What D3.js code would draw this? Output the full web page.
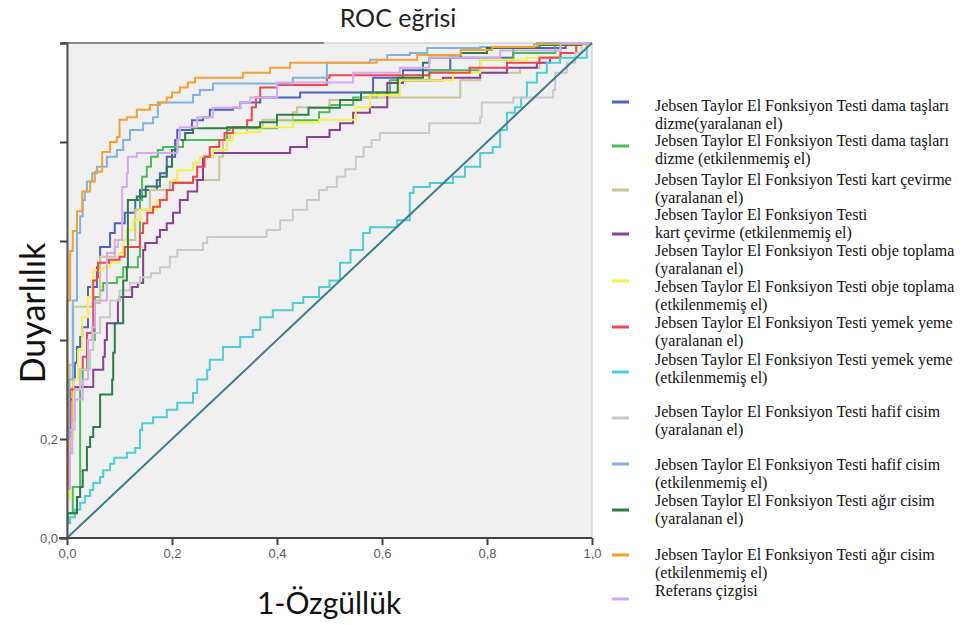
<!DOCTYPE html>
<html lang="tr">
<head>
<meta charset="UTF-8">
<title>ROC eğrisi</title>
<script src="https://d3js.org/d3.v7.min.js"></script>
<style>
    body { margin: 0; background: #fff; }
    svg { display: block; }
    .tick text { font-family: "Liberation Sans", Arial, sans-serif; font-size: 13px; fill: #5a5a5a; }
    .legend text { font-family: "Liberation Serif", "Times New Roman", serif; font-size: 16px; fill: #111; }
</style>
</head>
<body>
<svg width="970" height="625"></svg>
<script>
// ---- data: ROC step points [1-specificity, sensitivity] ----
const damaYaralanan = [[0,0],[0.003,0.1],[0.006,0.2],[0.012,0.28],[0.015,0.32],[0.019,0.354],[0.025,0.386],[0.029,0.406],[0.04,0.426],[0.057,0.507],[0.063,0.547],[0.082,0.588],[0.091,0.616],[0.11,0.636],[0.13,0.657],[0.139,0.683],[0.171,0.703],[0.177,0.723],[0.19,0.737],[0.206,0.77],[0.21,0.804],[0.238,0.824],[0.259,0.844],[0.272,0.85],[0.316,0.865],[0.33,0.869],[0.368,0.88],[0.444,0.89],[0.583,0.9],[0.64,0.93],[0.73,0.945],[0.85,0.97],[0.95,0.99],[1,1]];
const damaEtkilenmemis = [[0,0],[0.002,0.03],[0.011,0.05],[0.011,0.077],[0.025,0.103],[0.025,0.17],[0.03,0.305],[0.038,0.34],[0.053,0.4],[0.063,0.487],[0.069,0.5],[0.095,0.515],[0.107,0.527],[0.135,0.547],[0.139,0.568],[0.143,0.683],[0.152,0.73],[0.16,0.75],[0.173,0.77],[0.183,0.784],[0.221,0.79],[0.305,0.804],[0.31,0.824],[0.4,0.828],[0.48,0.844],[0.5,0.86],[0.545,0.875],[0.59,0.89],[0.615,0.9],[0.69,0.925],[0.787,0.945],[0.85,0.966],[0.93,0.98],[1,1]];
const kartYaralanan = [[0,0],[0.005,0.15],[0.012,0.35],[0.048,0.467],[0.063,0.475],[0.091,0.568],[0.13,0.602],[0.158,0.663],[0.196,0.703],[0.24,0.719],[0.29,0.723],[0.297,0.77],[0.31,0.804],[0.343,0.818],[0.373,0.83],[0.43,0.845],[0.438,0.86],[0.5,0.87],[0.558,0.885],[0.749,0.89],[0.787,0.925],[0.863,0.94],[0.9,0.95],[0.94,0.97],[1,1]];
const kartEtkilenmemis = [[0,0],[0.003,0.1],[0.006,0.17],[0.011,0.218],[0.05,0.305],[0.069,0.34],[0.072,0.366],[0.076,0.4],[0.097,0.434],[0.1,0.48],[0.124,0.487],[0.135,0.507],[0.145,0.515],[0.149,0.582],[0.171,0.596],[0.177,0.608],[0.19,0.622],[0.202,0.636],[0.215,0.657],[0.23,0.683],[0.248,0.7],[0.259,0.723],[0.278,0.77],[0.425,0.778],[0.457,0.79],[0.5,0.81],[0.52,0.824],[0.545,0.838],[0.577,0.859],[0.61,0.87],[0.64,0.919],[0.716,0.925],[0.787,0.93],[0.838,0.94],[0.895,0.95],[0.92,0.96],[0.94,0.97],[1,1]];
const objeEtkilenmemis = [[0,0],[0.005,0.08],[0.012,0.2],[0.021,0.32],[0.029,0.38],[0.04,0.446],[0.048,0.487],[0.05,0.515],[0.069,0.541],[0.082,0.547],[0.1,0.556],[0.107,0.576],[0.114,0.602],[0.126,0.622],[0.139,0.642],[0.171,0.663],[0.19,0.683],[0.202,0.703],[0.21,0.723],[0.24,0.743],[0.253,0.758],[0.278,0.77],[0.305,0.784],[0.316,0.804],[0.343,0.818],[0.368,0.82],[0.43,0.83],[0.48,0.84],[0.55,0.845],[0.577,0.87],[0.634,0.895],[0.735,0.925],[0.787,0.94],[0.876,0.966],[0.94,0.97],[1,1]];
const yemekYaralanan = [[0,0],[0.004,0.1],[0.006,0.204],[0.025,0.3],[0.03,0.34],[0.038,0.366],[0.05,0.414],[0.057,0.52],[0.059,0.527],[0.08,0.556],[0.1,0.562],[0.11,0.568],[0.139,0.588],[0.145,0.616],[0.153,0.636],[0.164,0.657],[0.177,0.669],[0.19,0.683],[0.202,0.703],[0.24,0.717],[0.248,0.73],[0.262,0.75],[0.272,0.77],[0.29,0.79],[0.3,0.804],[0.316,0.818],[0.343,0.83],[0.352,0.844],[0.36,0.87],[0.368,0.89],[0.4,0.91],[0.495,0.915],[0.5,0.93],[0.69,0.935],[0.767,0.94],[0.838,0.95],[0.9,0.96],[0.94,0.97],[0.97,0.98],[1,1]];
const yemekEtkilenmemis = [[0,0],[0.006,0.03],[0.015,0.042],[0.025,0.057],[0.034,0.071],[0.044,0.085],[0.05,0.097],[0.063,0.111],[0.069,0.123],[0.082,0.137],[0.09,0.15],[0.114,0.162],[0.13,0.172],[0.139,0.182],[0.143,0.218],[0.164,0.232],[0.19,0.244],[0.21,0.259],[0.24,0.273],[0.248,0.293],[0.267,0.32],[0.272,0.34],[0.297,0.36],[0.33,0.386],[0.354,0.406],[0.368,0.42],[0.392,0.446],[0.43,0.46],[0.45,0.475],[0.48,0.487],[0.5,0.507],[0.52,0.52],[0.54,0.556],[0.564,0.582],[0.577,0.616],[0.629,0.628],[0.653,0.642],[0.66,0.697],[0.691,0.709],[0.735,0.717],[0.758,0.73],[0.787,0.75],[0.811,0.778],[0.825,0.79],[0.838,0.824],[0.853,0.859],[0.865,0.87],[0.876,0.89],[0.895,0.92],[0.914,0.94],[0.939,0.96],[0.99,0.97],[1,1]];
const hafifYaralanan = [[0,0],[0.005,0.1],[0.015,0.218],[0.025,0.3],[0.044,0.34],[0.05,0.38],[0.063,0.414],[0.082,0.446],[0.1,0.48],[0.12,0.5],[0.139,0.515],[0.16,0.527],[0.177,0.535],[0.196,0.547],[0.21,0.568],[0.259,0.582],[0.267,0.596],[0.38,0.608],[0.406,0.622],[0.43,0.642],[0.457,0.663],[0.48,0.683],[0.495,0.703],[0.514,0.709],[0.53,0.73],[0.55,0.745],[0.565,0.77],[0.58,0.79],[0.596,0.804],[0.69,0.818],[0.787,0.838],[0.79,0.85],[0.85,0.88],[0.926,0.89],[0.93,0.905],[0.952,0.94],[0.968,0.96],[0.98,0.98],[1,1]];
const hafifEtkilenmemis = [[0,0],[0.004,0.2],[0.011,0.32],[0.011,0.446],[0.019,0.48],[0.025,0.616],[0.03,0.65],[0.034,0.683],[0.038,0.7],[0.048,0.72],[0.057,0.737],[0.076,0.75],[0.095,0.77],[0.107,0.784],[0.12,0.804],[0.145,0.824],[0.164,0.838],[0.173,0.85],[0.173,0.87],[0.24,0.88],[0.253,0.895],[0.278,0.905],[0.43,0.918],[0.495,0.93],[0.577,0.96],[0.61,0.966],[0.653,0.976],[0.686,0.98],[0.787,0.99],[0.895,0.992],[1,1]];
const agirYaralanan = [[0,0],[0.019,0.05],[0.025,0.083],[0.03,0.103],[0.038,0.137],[0.044,0.184],[0.05,0.204],[0.063,0.224],[0.063,0.285],[0.086,0.29],[0.088,0.32],[0.091,0.374],[0.107,0.434],[0.107,0.495],[0.114,0.52],[0.116,0.547],[0.116,0.677],[0.133,0.683],[0.15,0.69],[0.177,0.71],[0.19,0.73],[0.2,0.75],[0.21,0.784],[0.225,0.804],[0.24,0.818],[0.305,0.828],[0.368,0.83],[0.4,0.84],[0.46,0.855],[0.52,0.869],[0.56,0.885],[0.63,0.9],[0.678,0.93],[0.69,0.96],[0.75,0.97],[0.8,0.98],[0.9,0.99],[0.98,0.996],[1,1]];
const agirEtkilenmemis = [[0,0],[0.006,0.48],[0.011,0.58],[0.019,0.62],[0.029,0.66],[0.044,0.7],[0.053,0.72],[0.067,0.74],[0.082,0.78],[0.095,0.8],[0.1,0.81],[0.114,0.845],[0.133,0.85],[0.158,0.865],[0.177,0.875],[0.19,0.88],[0.2,0.89],[0.215,0.9],[0.23,0.91],[0.244,0.92],[0.335,0.93],[0.387,0.94],[0.425,0.95],[0.59,0.96],[0.667,0.966],[0.75,0.976],[0.81,0.986],[0.89,0.992],[0.99,0.998],[1,1]];
const lilaEgri = [[0,0],[0.005,0.1],[0.01,0.17],[0.015,0.238],[0.03,0.28],[0.04,0.32],[0.048,0.4],[0.053,0.426],[0.076,0.48],[0.091,0.576],[0.097,0.588],[0.105,0.602],[0.105,0.663],[0.114,0.709],[0.116,0.737],[0.133,0.77],[0.21,0.778],[0.215,0.804],[0.248,0.83],[0.278,0.85],[0.33,0.869],[0.349,0.88],[0.4,0.89],[0.545,0.92],[0.634,0.94],[0.69,0.95],[0.825,0.97],[0.94,0.985],[1,1]];
const referans = [[0,0],[1,1]];

const curves = [damaYaralanan, damaEtkilenmemis, kartYaralanan, kartEtkilenmemis, objeEtkilenmemis,
    yemekYaralanan, yemekEtkilenmemis, hafifYaralanan, hafifEtkilenmemis, agirYaralanan, agirEtkilenmemis, lilaEgri];
const curveColors = ["#4c62c4", "#4cbb58", "#cbc494", "#8b3f97", "#f4f04c", "#f0464e",
    "#4fcdd2", "#c9c9c9", "#80b3e2", "#2f7c4b", "#f5a033", "#d6a8ef"];

const xTicks = [0, 0.2, 0.4, 0.6, 0.8, 1.0];
const xTickLabels = ["0,0", "0,2", "0,4", "0,6", "0,8", "1,0"];
const yTicks = [0, 0.2, 0.4, 0.6, 0.8, 1.0];
const yTickLabels = ["0,0", "0,2", "", "", "", ""];

const legendLabels = [
    ["Jebsen Taylor El Fonksiyon Testi dama taşları", "dizme(yaralanan el)"],
    ["Jebsen Taylor El Fonksiyon Testi dama taşları", "dizme (etkilenmemiş el)"],
    ["Jebsen Taylor El Fonksiyon Testi kart çevirme", "(yaralanan el)"],
    ["Jebsen Taylor El Fonksiyon Testi", "kart çevirme (etkilenmemiş el)"],
    ["Jebsen Taylor El Fonksiyon Testi obje toplama", "(yaralanan el)"],
    ["Jebsen Taylor El Fonksiyon Testi obje toplama", "(etkilenmemiş el)"],
    ["Jebsen Taylor El Fonksiyon Testi yemek yeme", "(yaralanan el)"],
    ["Jebsen Taylor El Fonksiyon Testi yemek yeme", "(etkilenmemiş el)"],
    ["Jebsen Taylor El Fonksiyon Testi hafif cisim", "(yaralanan el)"],
    ["Jebsen Taylor El Fonksiyon Testi hafif cisim", "(etkilenmemiş el)"],
    ["Jebsen Taylor El Fonksiyon Testi ağır cisim", "(yaralanan el)"],
    ["Jebsen Taylor El Fonksiyon Testi ağır cisim", "(etkilenmemiş el)"],
    ["Referans çizgisi"]
];

// ---- layout ----
const svg = d3.select("svg");
const plot = { left: 67, right: 592, top: 43, bottom: 538 };

const x = d3.scaleLinear().domain([0, 1]).range([plot.left, plot.right]);
const y = d3.scaleLinear().domain([0, 1]).range([plot.bottom, plot.top]);

// title
svg.append("text")
    .attr("x", 398).attr("y", 27)
    .attr("text-anchor", "middle")
    .style("font-family", "Lato, 'Open Sans', sans-serif")
    .style("font-size", "25px")
    .attr("fill", "#222")
    .text("ROC eğrisi");

// plot background
svg.append("rect")
    .attr("x", plot.left).attr("y", plot.top)
    .attr("width", plot.right - plot.left).attr("height", plot.bottom - plot.top)
    .attr("fill", "#f0f0f0")
    .attr("stroke", "#c4c4c4").attr("stroke-width", 1);

// darker part of top border
svg.append("line")
    .attr("x1", plot.left - 6).attr("x2", 324)
    .attr("y1", plot.top).attr("y2", plot.top)
    .attr("stroke", "#8c8c8c").attr("stroke-width", 2);

// curves
const line = d3.line()
    .x(d => x(d[0]))
    .y(d => y(d[1]))
    .curve(d3.curveStepBefore);

svg.append("g")
    .selectAll("path")
    .data(curves)
    .join("path")
    .attr("d", line)
    .attr("fill", "none")
    .attr("stroke", (d, i) => curveColors[i])
    .attr("stroke-width", 2)
    .attr("stroke-linejoin", "miter");

// reference diagonal
svg.append("path")
    .datum(referans)
    .attr("d", d3.line().x(d => x(d[0])).y(d => y(d[1])))
    .attr("fill", "none")
    .attr("stroke", "#3d7c8d")
    .attr("stroke-width", 2);

// axes
const xAxis = svg.append("g")
    .attr("transform", `translate(0,${plot.bottom})`)
    .call(d3.axisBottom(x).tickValues(xTicks).tickSize(7).tickPadding(4)
        .tickFormat((d, i) => xTickLabels[i]));
xAxis.select(".domain").attr("d", `M${plot.left - 8},0H${plot.right}`).attr("stroke", "#444").attr("stroke-width", 2);
xAxis.selectAll(".tick line").attr("stroke", "#444").attr("stroke-width", 2);

const yAxis = svg.append("g")
    .attr("transform", `translate(${plot.left},0)`)
    .call(d3.axisLeft(y).tickValues(yTicks).tickSize(7).tickPadding(2)
        .tickFormat((d, i) => yTickLabels[i]));
yAxis.select(".domain").attr("stroke", "#555").attr("stroke-width", 2);
yAxis.selectAll(".tick line").attr("stroke", "#444").attr("stroke-width", 2);

// axis titles
svg.append("text")
    .attr("transform", "translate(45,313) rotate(-90)")
    .attr("text-anchor", "middle")
    .style("font-family", "Lato, 'Open Sans', sans-serif")
    .style("font-size", "34px")
    .attr("fill", "#111")
    .text("Duyarlılık");

svg.append("text")
    .attr("x", 329).attr("y", 614)
    .attr("text-anchor", "middle")
    .style("font-family", "Lato, 'Open Sans', sans-serif")
    .style("font-size", "30px")
    .attr("fill", "#111")
    .text("1-Özgüllük");

// legend
const markerY = [102, 146, 190, 234, 281, 327, 372, 418, 464, 510, 555, 599];
const labelY = [106, 141, 180, 215, 251, 287, 323, 360, 412, 465, 501, 555, 591];

const legend = svg.append("g").attr("class", "legend");
legend.selectAll("line")
    .data(markerY)
    .join("line")
    .attr("x1", 612).attr("x2", 629)
    .attr("y1", d => d).attr("y2", d => d)
    .attr("stroke", (d, i) => curveColors[i])
    .attr("stroke-width", 3);

legendLabels.forEach((lines, i) => {
    const t = legend.append("text")
        .attr("x", 655)
        .attr("y", labelY[i] + 5);
    lines.forEach((s, j) => {
        t.append("tspan")
            .attr("x", 655)
            .attr("dy", j === 0 ? 0 : 18)
            .text(s);
    });
});
</script>
</body>
</html>
